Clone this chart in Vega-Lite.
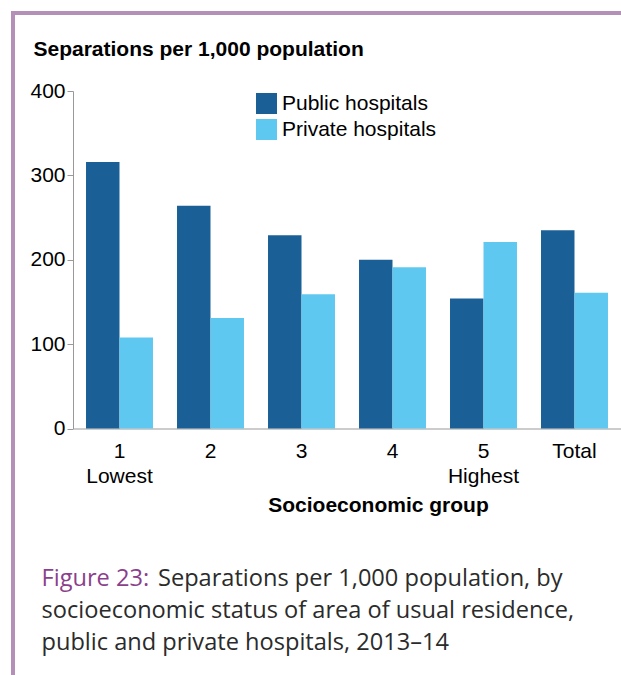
{
  "$schema": "https://vega.github.io/schema/vega-lite/v6.json",
  "width": 611,
  "height": 665,
  "autosize": {"type": "none"},
  "padding": {"left": 13, "top": 13, "right": -3, "bottom": -3},
  "background": "white",
  "title": {
    "text": "Figure 23:",
    "subtitle": [
      "\u200b\u00a0\u00a0\u00a0\u00a0\u00a0\u00a0\u00a0\u00a0\u00a0\u00a0\u00a0\u00a0\u00a0\u00a0\u00a0\u00a0\u00a0\u00a0\u00a0Separations per 1,000 population, by",
      "socioeconomic status of area of usual residence,",
      "public and private hospitals, 2013–14"
    ],
    "anchor": "start",
    "frame": "group",
    "orient": "top",
    "font": "Open Sans",
    "fontSize": 23.6,
    "fontWeight": "normal",
    "color": "#8b3f8c",
    "subtitleFont": "Open Sans",
    "subtitleFontSize": 23.6,
    "subtitleColor": "#2b2b2b",
    "subtitleLineHeight": 32,
    "subtitlePadding": -23.6,
    "dx": 28.5,
    "dy": 642,
    "offset": 0
  },
  "data": {
    "values": [
      {"group": "1", "type": "Public hospitals", "value": 316},
      {"group": "1", "type": "Private hospitals", "value": 108},
      {"group": "2", "type": "Public hospitals", "value": 264},
      {"group": "2", "type": "Private hospitals", "value": 131},
      {"group": "3", "type": "Public hospitals", "value": 229},
      {"group": "3", "type": "Private hospitals", "value": 159},
      {"group": "4", "type": "Public hospitals", "value": 200},
      {"group": "4", "type": "Private hospitals", "value": 191},
      {"group": "5", "type": "Public hospitals", "value": 154},
      {"group": "5", "type": "Private hospitals", "value": 221},
      {"group": "Total", "type": "Public hospitals", "value": 235},
      {"group": "Total", "type": "Private hospitals", "value": 161}
    ]
  },
  "mark": {"type": "bar"},
  "encoding": {
    "x": {
      "field": "group",
      "type": "nominal",
      "sort": null,
      "scale": {"range": [60, 608], "paddingInner": 0.264, "paddingOuter": 0.143},
      "axis": {
        "title": "Socioeconomic group",
        "titleX": 365,
        "titleY": 82.5,
        "titleAlign": "center",
        "titleBaseline": "alphabetic",
        "titleFont": "Liberation Sans",
        "titleFontSize": 21,
        "titleFontWeight": "bold",
        "titleColor": "black",
        "offset": -249.5,
        "ticks": false,
        "grid": false,
        "domainColor": "#999999",
        "domainWidth": 1,
        "labelAngle": 0,
        "labelBaseline": "top",
        "labelPadding": 12,
        "labelLineHeight": 25,
        "labelFont": "Liberation Sans",
        "labelFontSize": 21,
        "labelColor": "black",
        "labelExpr": "datum.value == '1' ? ['1', 'Lowest'] : datum.value == '5' ? ['5', 'Highest'] : datum.value"
      }
    },
    "xOffset": {
      "field": "type",
      "type": "nominal",
      "sort": ["Public hospitals", "Private hospitals"],
      "scale": {"paddingInner": 0, "paddingOuter": 0}
    },
    "y": {
      "field": "value",
      "type": "quantitative",
      "scale": {"domain": [0, 400], "range": [415.5, 78], "nice": false},
      "axis": {
        "title": "Separations per 1,000 population",
        "titleAngle": 0,
        "titleAlign": "left",
        "titleBaseline": "alphabetic",
        "titleX": -40,
        "titleY": 42,
        "titleFont": "Liberation Sans",
        "titleFontSize": 21,
        "titleFontWeight": "bold",
        "titleColor": "black",
        "offset": -60,
        "values": [0, 100, 200, 300, 400],
        "grid": false,
        "domainColor": "#999999",
        "tickColor": "#999999",
        "tickSize": 6,
        "labelFont": "Liberation Sans",
        "labelFontSize": 21,
        "labelColor": "black",
        "labelPadding": 2
      }
    },
    "color": {
      "field": "type",
      "type": "nominal",
      "sort": ["Public hospitals", "Private hospitals"],
      "scale": {"domain": ["Public hospitals", "Private hospitals"], "range": ["#1a6096", "#5fc8f1"]},
      "legend": {
        "orient": "none",
        "legendX": 243,
        "legendY": 80,
        "title": null,
        "symbolType": "square",
        "symbolSize": 441,
        "symbolStrokeWidth": 0,
        "labelFont": "Liberation Sans",
        "labelFontSize": 21,
        "labelColor": "black",
        "labelOffset": 5,
        "labelLimit": 300,
        "rowPadding": 4,
        "padding": 0
      }
    }
  },
  "config": {"view": {"stroke": "#b48fb8", "strokeWidth": 4}}
}
